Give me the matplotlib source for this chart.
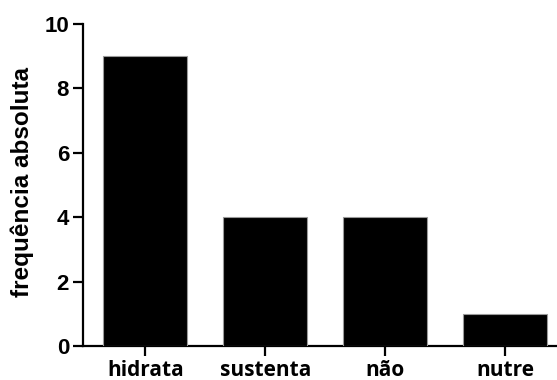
import matplotlib
matplotlib.use("Agg")
import matplotlib.pyplot as plt

categories = ["hidrata", "sustenta", "não", "nutre"]
counts = [9, 4, 4, 1]
y_ticks = [0, 2, 4, 6, 8, 10]

plt.rcParams["font.family"] = ["Liberation Sans", "DejaVu Sans"]

fig = plt.figure(figsize=(5.57, 3.80), dpi=100)
ax = fig.add_axes([0.149, 0.089, 0.851, 0.848])

x = range(len(categories))
ax.bar(x, counts, width=0.7, color="black", edgecolor="#9a9a9a", linewidth=0.8, zorder=3)

ax.set_xlim(-0.52, 3.43)
ax.set_ylim(0, 10)
ax.set_yticks(y_ticks)
ax.set_yticklabels([str(t) for t in y_ticks], fontsize=16, fontweight="bold")
ax.set_xticks(list(x))
ax.set_xticklabels(categories, fontsize=15, fontweight="bold",
                   family=["Open Sans", "DejaVu Sans"])
ax.set_ylabel("frequência absoluta", fontsize=17.5, fontweight="bold")
ax.yaxis.set_label_coords(-0.104, 0.51)

for side in ("top", "right"):
    ax.spines[side].set_visible(False)
for side in ("left", "bottom"):
    ax.spines[side].set_linewidth(1.6)
ax.tick_params(axis="both", direction="out", length=7, width=1.6, color="black")
ax.tick_params(axis="x", pad=3)
ax.tick_params(axis="y", pad=3)

fig.savefig("out.png", dpi=100)
